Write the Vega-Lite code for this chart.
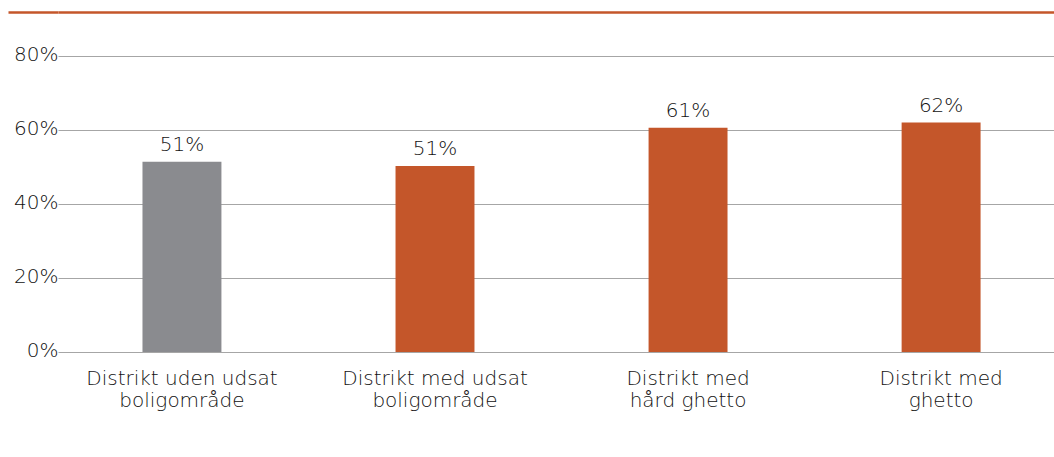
{
  "$schema": "https://vega.github.io/schema/vega-lite/v6.json",
  "width": 996,
  "height": 340,
  "autosize": {"type": "none"},
  "padding": {"left": 58, "top": 12, "right": 0, "bottom": 105},
  "background": "white",
  "config": {
    "view": {"stroke": null},
    "font": "DejaVu Sans",
    "axis": {"labelFont": "DejaVu Sans", "labelFontWeight": 200, "labelColor": "#111111"},
    "text": {"font": "DejaVu Sans", "fontWeight": 200}
  },
  "data": {
    "values": [
      {"cat": "Distrikt uden udsat|boligområde", "value": 0.515, "label": "51%", "grp": "ref"},
      {"cat": "Distrikt med udsat|boligområde", "value": 0.503, "label": "51%", "grp": "other"},
      {"cat": "Distrikt med|hård ghetto", "value": 0.607, "label": "61%", "grp": "other"},
      {"cat": "Distrikt med|ghetto", "value": 0.621, "label": "62%", "grp": "other"}
    ]
  },
  "encoding": {
    "x": {
      "field": "cat",
      "type": "nominal",
      "sort": null,
      "scale": {"paddingInner": 0.688, "paddingOuter": 0.312, "align": 0.535},
      "axis": {
        "title": null,
        "labelExpr": "split(datum.label, '|')",
        "labelAngle": 0,
        "labelLimit": 400,
        "ticks": false,
        "domain": false,
        "labelFontSize": 20,
        "labelPadding": 16,
        "labelLineHeight": 22,
        "labelBaseline": "top"
      }
    },
    "y": {
      "field": "value",
      "type": "quantitative",
      "scale": {"domain": [0, 0.92], "nice": false, "zero": true},
      "axis": {
        "title": null,
        "values": [0, 0.2, 0.4, 0.6, 0.8, 0.92],
        "format": ".0%",
        "labelExpr": "datum.value > 0.9 ? '' : datum.label",
        "grid": true,
        "gridColor": {"condition": {"test": "datum.value > 0.9", "value": "#C4562A"}, "value": "#A6A6A6"},
        "gridWidth": {"condition": {"test": "datum.value > 0.9", "value": 2.5}, "value": 1},
        "ticks": true,
        "tickSize": {"condition": {"test": "datum.value > 0.9", "value": 50}, "value": 0},
        "tickColor": "#C4562A",
        "tickWidth": 2.5,
        "domain": false,
        "labelPadding": 0,
        "labelFontSize": 20,
        "labelOffset": -2
      }
    }
  },
  "layer": [
    {
      "mark": {"type": "bar"},
      "encoding": {
        "color": {
          "field": "grp",
          "type": "nominal",
          "scale": {"domain": ["ref", "other"], "range": ["#8A8B8F", "#C4562A"]},
          "legend": null
        }
      }
    },
    {
      "mark": {"type": "text", "dy": -11, "baseline": "alphabetic", "fontSize": 20, "color": "#111111"},
      "encoding": {"text": {"field": "label"}}
    }
  ]
}
